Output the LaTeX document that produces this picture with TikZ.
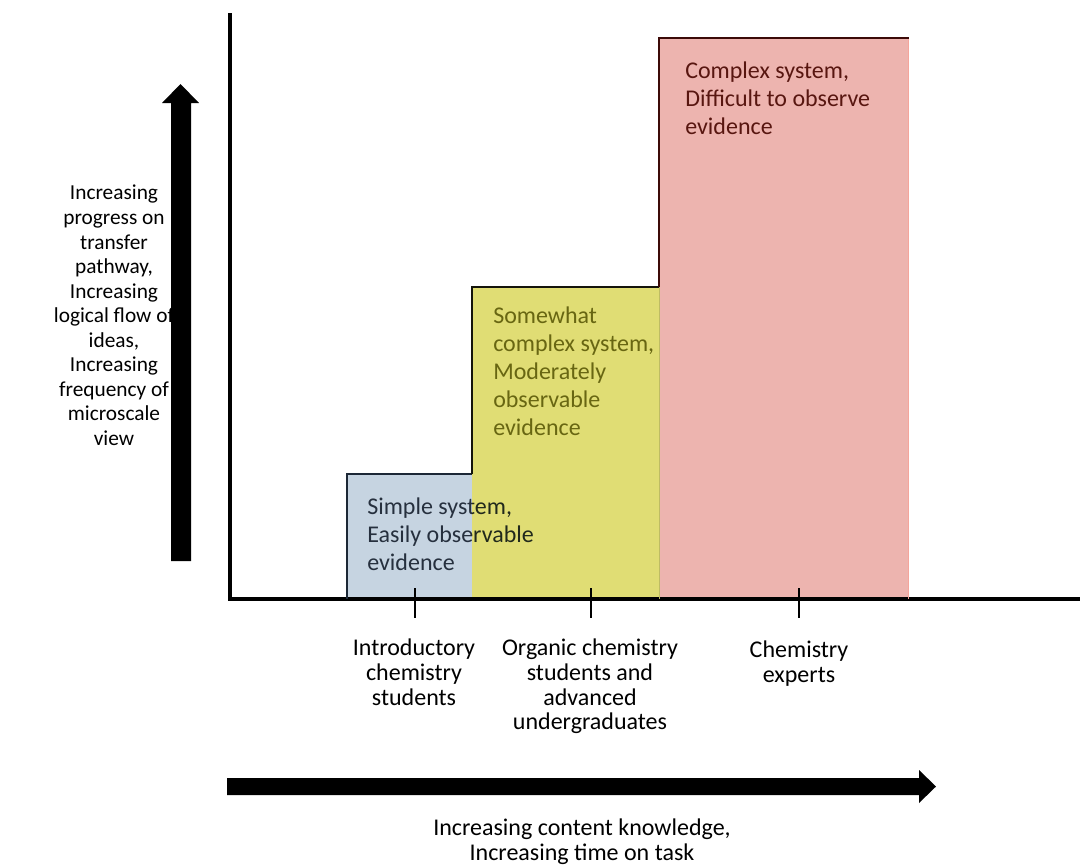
\documentclass[tikz,border=0pt]{standalone}
\usepackage{fontspec}
\setmainfont{Carlito}
\definecolor{bluefill}{RGB}{198,212,225}
\definecolor{bluetext}{RGB}{38,48,62}
\definecolor{blueedge}{RGB}{28,40,54}
\definecolor{yellowfill}{RGB}{224,221,116}
\definecolor{yellowtext}{RGB}{104,102,18}
\definecolor{yellowedge}{RGB}{20,20,10}
\definecolor{redfill}{RGB}{237,180,175}
\definecolor{redtext}{RGB}{88,22,16}
\definecolor{rededge}{RGB}{60,10,8}
\definecolor{redlight}{RGB}{245,165,155}
\tikzset{
  x=0.75pt, y=-0.75pt,
  axis/.style={line width=2.4pt, black},
  tick/.style={line width=2.2pt, black},
  lbl/.style={inner sep=0pt, align=center, font=\fontsize{18}{18.4}\selectfont, text=black},
  sidelbl/.style={lbl, font=\fontsize{16}{18.4}\selectfont},
  boxtxt/.style={inner sep=0pt, align=left, font=\fontsize{18}{21}\selectfont},
  bigarrow/.style={fill=black},
}
\begin{document}
\begin{tikzpicture}
\useasboundingbox (0,0) rectangle (1080,865);
% blue box
\fill[bluefill] (347,474) rectangle (472,599);
\node[boxtxt, text=bluetext, anchor=north west] (tblue) at (367,498) {Simple system,\\Easily observable\\evidence};
% axes
\coordinate (ytop) at (230,13);
\coordinate (orig) at (230,599);
\coordinate (xend) at (1080,599);
\draw[axis] (ytop) -- (230,600.5);
\draw[axis] (228.5,599) -- (xend);
% ticks
\coordinate (t1a) at (415,588); \coordinate (t1b) at (415,618);
\coordinate (t2a) at (591,588); \coordinate (t2b) at (591,618);
\coordinate (t3a) at (799,588); \coordinate (t3b) at (799,618);
\draw[tick] (t1a) -- (t1b);
\draw[tick] (t2a) -- (t2b);
\draw[tick] (t3a) -- (t3b);
% yellow and red boxes (multiplied over what lies beneath)
\begin{scope}[blend mode=multiply]
\fill[yellowfill] (472,287) rectangle (659,599);
\fill[redfill] (659,38) rectangle (909,599);
\end{scope}
\draw[redlight, line width=1pt] (908.5,38) -- (908.5,599);
\draw[yellowfill!85!black, line width=0.6pt] (659,287) -- (659,599);
% stair outline
\draw[blueedge, line width=2pt] (347,599) -- (347,474) -- (472,474);
\draw[yellowedge, line width=2pt] (472,474) -- (472,287) -- (659,287);
\draw[rededge, line width=2.2pt] (659,287) -- (659,38) -- (909,38);
% box texts
\node[boxtxt, text=yellowtext, anchor=north west] (tyellow) at (493,307) {Somewhat\\complex system,\\Moderately\\observable\\evidence};
\node[boxtxt, text=redtext, anchor=north west] (tred) at (685,62) {Complex system,\\Difficult to observe\\evidence};
% arrows
\fill[bigarrow] (171,561) -- (171,103) -- (162,103) -- (180.5,84) -- (199,103) -- (191,103) -- (191,561) -- cycle;
\fill[bigarrow] (227,778) -- (919,778) -- (919,770) -- (936,786.5) -- (919,803) -- (919,795) -- (227,795) -- cycle;
% labels
\node[sidelbl, anchor=north] (lleft) at (114,185) {Increasing\\progress on\\transfer\\pathway,\\Increasing\\logical flow of\\ideas,\\Increasing\\frequency of\\microscale\\view};
\node[lbl, anchor=north] (l1) at (414,639) {Introductory\\chemistry\\students};
\node[lbl, anchor=north] (l2) at (590,639) {Organic chemistry\\students and\\advanced\\undergraduates};
\node[lbl, anchor=north] (l3) at (799,641) {Chemistry\\experts};
\node[lbl, anchor=north] (lbot) at (582,819) {Increasing content knowledge,\\Increasing time on task};
\end{tikzpicture}
\end{document}
